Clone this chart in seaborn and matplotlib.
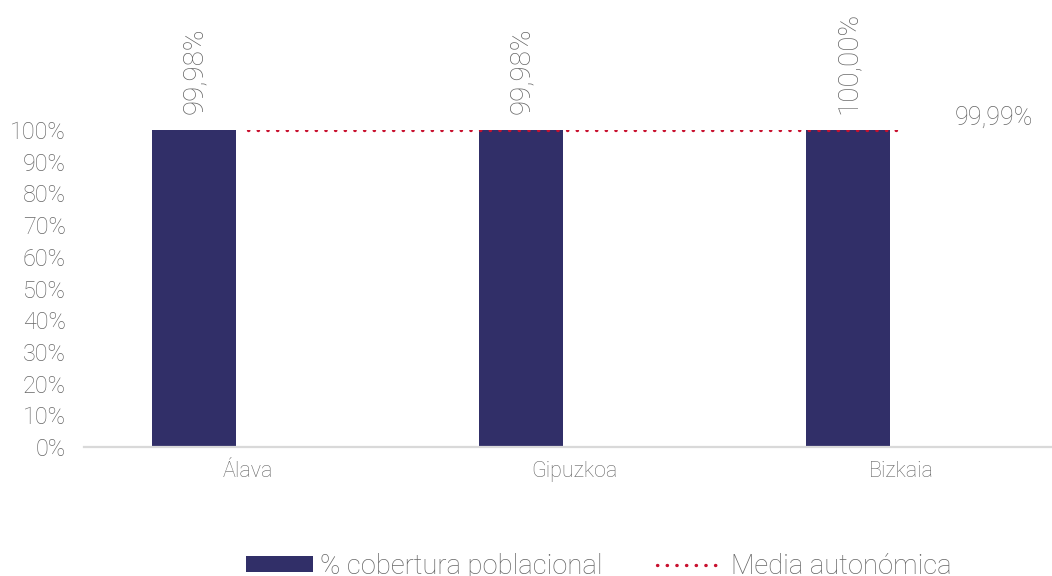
import matplotlib
matplotlib.use("Agg")
import matplotlib.pyplot as plt
from matplotlib.ticker import FixedLocator, PercentFormatter
from matplotlib.patches import Patch
from matplotlib.lines import Line2D
import seaborn as sns
import pandas as pd

# Population coverage by territory (share of population)
territorios = ["Álava", "Gipuzkoa", "Bizkaia"]
cobertura = [0.9998, 0.9998, 1.0000]
media_autonomica = 0.9999

serie_barras = "% cobertura poblacional"
serie_media = "Media autonómica"

BAR_COLOR = "#312F68"
LINE_COLOR = "#C8102E"
TEXT_COLOR = "#666666"
AXIS_COLOR = "#D9D9D9"
DOTS = (0, (0.1, 2.8))

sns.set_style("white")
plt.rcParams["font.family"] = ["Roboto", "DejaVu Sans"]
plt.rcParams["font.weight"] = "light"

def pct_es(v):
    return f"{v * 100:.2f}%".replace(".", ",")

idx = list(range(len(territorios)))
bar_shift = -0.163  # bars sit left of the category centre
df_bar = pd.DataFrame({"pos": [i + bar_shift for i in idx], "valor": cobertura})
df_line = pd.DataFrame({"pos": idx, "valor": [media_autonomica] * len(idx)})

fig = plt.figure(figsize=(10.52, 5.76), dpi=100)
ax = fig.add_axes([84 / 1052, 1 - 447 / 576, 981 / 1052, 317 / 576])

sns.barplot(data=df_bar, x="pos", y="valor", native_scale=True, width=0.257,
            color=BAR_COLOR, saturation=1, ax=ax, errorbar=None, edgecolor="none")
sns.lineplot(data=df_line, x="pos", y="valor", ax=ax, color=LINE_COLOR,
             linewidth=2.4, linestyle=DOTS, dash_capstyle="round")

ax.set_xlim(-0.5, 2.5)
ax.set_ylim(0, 1.0)
ax.set_xlabel("")
ax.set_ylabel("")

# value labels above bars
for p, v in zip(ax.patches, cobertura):
    cx = p.get_x() + p.get_width() / 2
    ax.annotate(pct_es(v), (cx, p.get_height()), xytext=(0, 16),
                textcoords="offset pixels", rotation=90, ha="center", va="bottom",
                fontsize=20, color=TEXT_COLOR, annotation_clip=False)

# average value at the end of the line
ax.annotate(pct_es(media_autonomica), (idx[-1], media_autonomica), xytext=(53, 0),
            textcoords="offset pixels", ha="left", va="bottom",
            fontsize=18, color=TEXT_COLOR, annotation_clip=False)

ax.yaxis.set_major_locator(FixedLocator([i / 10 for i in range(11)]))
ax.yaxis.set_major_formatter(PercentFormatter(1.0, decimals=0))
ax.set_xticks(idx)
ax.set_xticklabels(territorios)
ax.xaxis.set_minor_locator(FixedLocator([i - 0.5 for i in range(len(idx) + 1)]))
ax.tick_params(axis="y", length=0, pad=13, labelsize=16.8, labelcolor=TEXT_COLOR)
ax.tick_params(axis="x", which="major", length=0, pad=10, labelsize=15.5, labelcolor=TEXT_COLOR)
ax.tick_params(axis="x", which="minor", length=5, width=1.2, color=AXIS_COLOR, direction="out")

for s in ["top", "right", "left"]:
    ax.spines[s].set_visible(False)
ax.spines["bottom"].set_color(AXIS_COLOR)
ax.spines["bottom"].set_linewidth(1.6)

handles = [Patch(facecolor=BAR_COLOR, edgecolor="none", label=serie_barras),
           Line2D([0], [0], color=LINE_COLOR, linewidth=2.4, linestyle=DOTS,
                  dash_capstyle="round", label=serie_media)]
fig.legend(handles=handles, loc="center", bbox_to_anchor=(0.5695, 0.017), ncol=2,
           frameon=False, fontsize=19.7, handlelength=2.45, handleheight=0.47,
           handletextpad=0.25, columnspacing=2.0, labelcolor=TEXT_COLOR)

fig.savefig("out.png", dpi=100)
